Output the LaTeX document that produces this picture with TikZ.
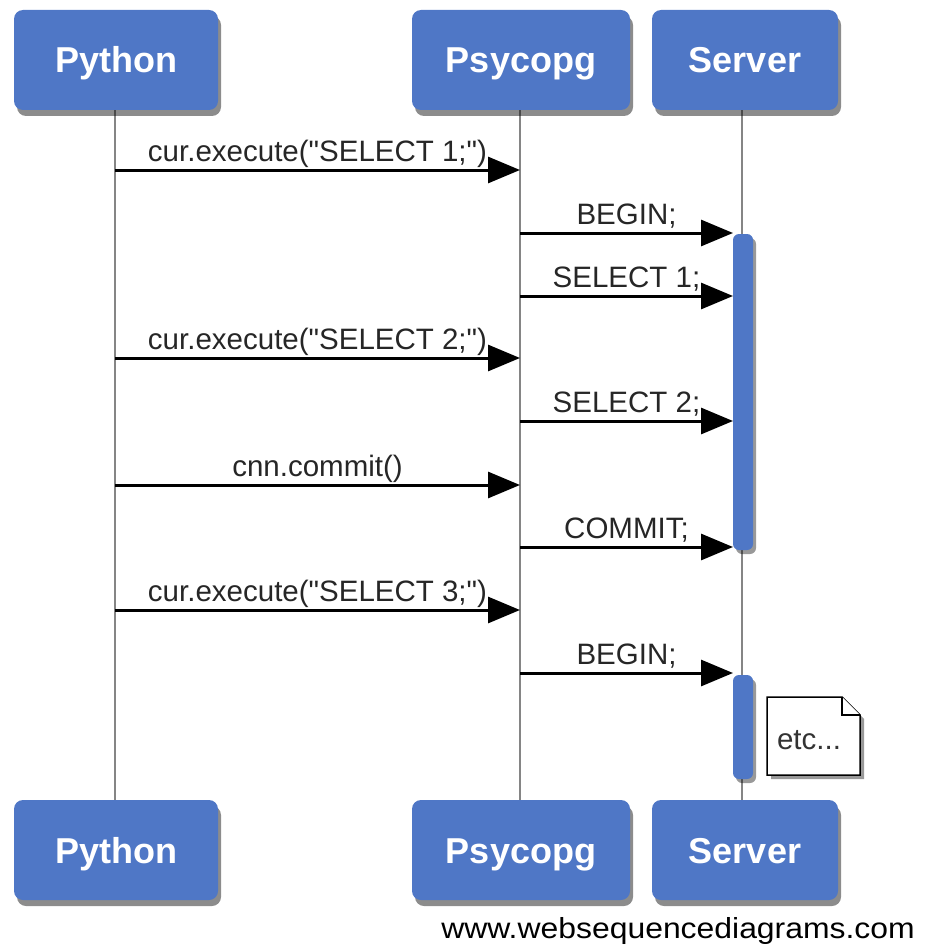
\documentclass[tikz,border=0pt]{standalone}
\usepackage{fontspec}
\setmainfont{Liberation Sans}
\newfontfamily\footfont{Liberation Sans}[FakeStretch=1.1]
\usetikzlibrary{shadows,arrows.meta,calc}
\definecolor{boxblue}{HTML}{4F77C6}
\definecolor{lifegray}{HTML}{858585}
\newcommand{\dq}{\textquotedbl}
\tikzset{
  actor/.style={draw=none, fill=boxblue, rounded corners=9pt, text=white,
    font=\fontsize{36}{40}\selectfont\bfseries, minimum height=100pt,
    text height=26pt, text depth=0pt,
    drop shadow={shadow xshift=3pt, shadow yshift=-6pt, fill=black, opacity=0.45}},
  lifeline/.style={draw=lifegray, line width=2.2pt},
  msg/.style={draw=black, line width=3pt, -{Triangle[length=32pt,width=26pt]}},
  lbl/.style={font=\fontsize{29.5}{34}\selectfont, text=black!85, inner sep=0pt, text depth=0pt, above=7pt},
  actbar/.style={draw=none, fill=boxblue, rounded corners=6pt, minimum width=20pt,
    drop shadow={shadow xshift=3pt, shadow yshift=-4pt, fill=black, opacity=0.4}},
}
\begin{document}
\begin{tikzpicture}[x=1pt,y=-1pt]
\useasboundingbox (0,0) rectangle (933,947);
% lifelines
\coordinate (pyT) at (115,110);
\coordinate (pyB) at (115,800);
\coordinate (psT) at (520,110);
\coordinate (psB) at (520,800);
\coordinate (svT) at (742,110);
\coordinate (svB) at (742,800);
\draw[lifeline] (pyT) -- (pyB);
\draw[lifeline] (psT) -- (psB);
\draw[lifeline] (svT) -- (svB);
% actors
\node[actor, minimum width=204pt] (py1) at (116,60) {Python};
\node[actor, minimum width=218pt] (ps1) at (521,60) {Psycopg};
\node[actor, minimum width=186pt] (sv1) at (745,60) {Server};
\node[actor, minimum width=204pt] (py2) at (116,850) {Python};
\node[actor, minimum width=218pt] (ps2) at (521,850) {Psycopg};
\node[actor, minimum width=186pt] (sv2) at (745,850) {Server};
% activation bars
\node[actbar, minimum height=316pt] (act1) at (743,392) {};
\node[actbar, minimum height=104pt] (act2) at (743,727) {};
% message end points
\foreach \n/\y in {a/170,d/358,f/485,h/610}{
  \coordinate (py\n) at (115,\y);
  \coordinate (ps\n) at (520,\y);
}
\foreach \n/\y in {b/233,c/296,e/421,g/547,i/673}{
  \coordinate (ps\n) at (520,\y);
  \coordinate (sv\n) at (733,\y);
}
\draw[msg] (pya) -- node[lbl] {cur.execute(\dq SELECT 1;\dq)} (psa);
\draw[msg] (psb) -- node[lbl] {BEGIN;} (svb);
\draw[msg] (psc) -- node[lbl] {SELECT 1;} (svc);
\draw[msg] (pyd) -- node[lbl] {cur.execute(\dq SELECT 2;\dq)} (psd);
\draw[msg] (pse) -- node[lbl] {SELECT 2;} (sve);
\draw[msg] (pyf) -- node[lbl] {cnn.commit()} (psf);
\draw[msg] (psg) -- node[lbl] {COMMIT;} (svg);
\draw[msg] (pyh) -- node[lbl] {cur.execute(\dq SELECT 3;\dq)} (psh);
\draw[msg] (psi) -- node[lbl] {BEGIN;} (svi);
% note
\fill[black, opacity=0.4] (771,701) -- (846,701) -- (864,719) -- (864,779) -- (771,779) -- cycle;
\draw[fill=white, line width=1.5pt] (767,697) -- (842,697) -- (860,715) -- (860,775) -- (767,775) -- cycle;
\draw[fill=white, line width=1.2pt] (842,697) -- (842,715) -- (860,715);
\node[font=\fontsize{29.5}{34}\selectfont, text=black!80, inner sep=0pt] (note) at (809,740) {etc...};
% footer
\node[font=\footfont\fontsize{29}{32}\selectfont, anchor=base east, inner sep=0pt] (footer) at (915,938) {www.websequencediagrams.com};
\end{tikzpicture}
\end{document}
